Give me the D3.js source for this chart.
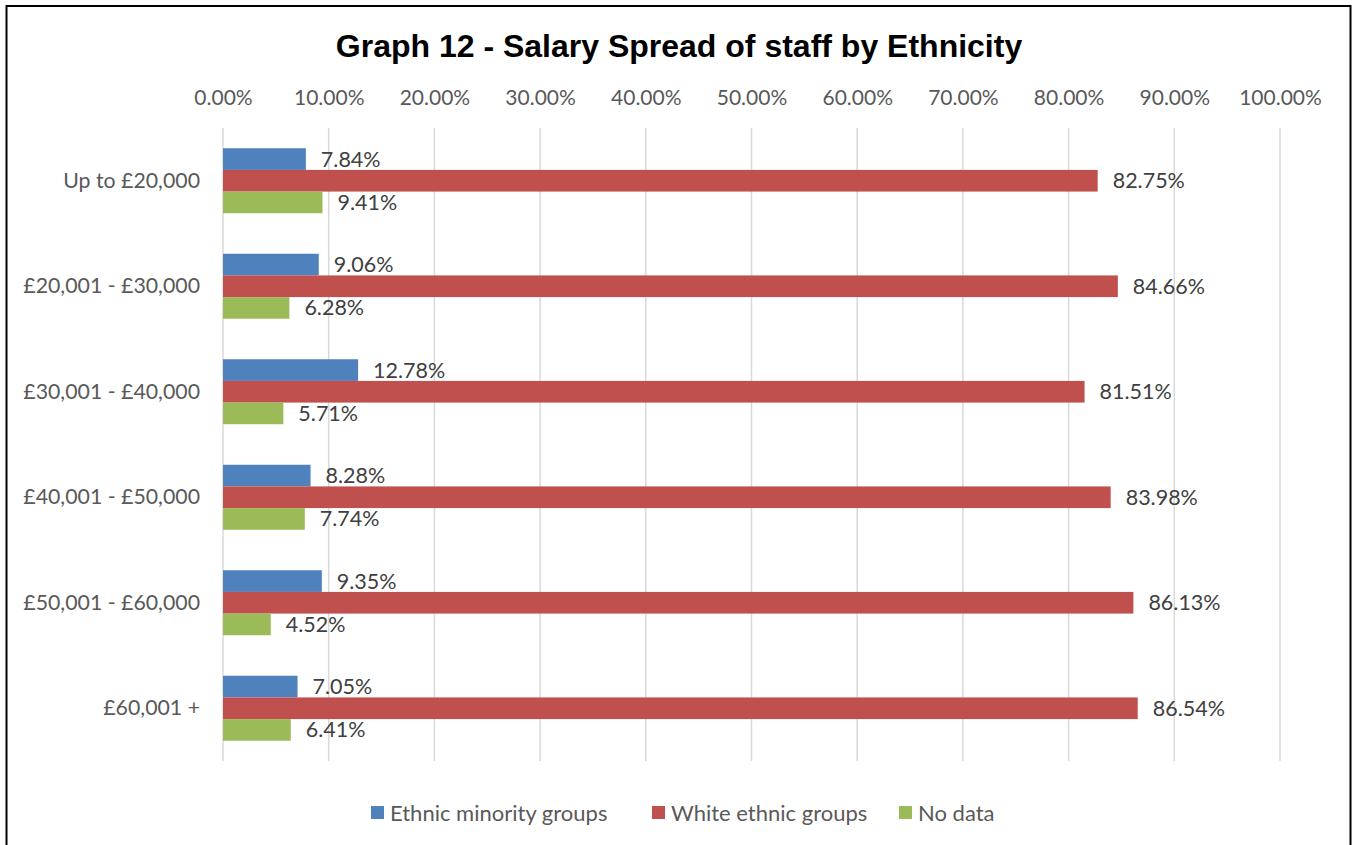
<!DOCTYPE html>
<html>
<head>
<meta charset="utf-8">
<script src="https://cdn.jsdelivr.net/npm/d3@7"></script>
<style>
  html, body { margin: 0; padding: 0; background: #fff; }
  svg { display: block; }
</style>
</head>
<body>
<svg id="chart" width="1357" height="845"></svg>
<script>
// Salary bands (top to bottom)
const categories = ["Up to £20,000", "£20,001 - £30,000", "£30,001 - £40,000", "£40,001 - £50,000", "£50,001 - £60,000", "£60,001 +"];
// Percentage of staff in each band
const ethnicMinority = [7.84, 9.06, 12.78, 8.28, 9.35, 7.05];
const whiteEthnic = [82.75, 84.66, 81.51, 83.98, 86.13, 86.54];
const noData = [9.41, 6.28, 5.71, 7.74, 4.52, 6.41];
const seriesNames = ["Ethnic minority groups", "White ethnic groups", "No data"];
const seriesColors = ["#4F81BD", "#C0504D", "#9BBB59"];
const tickValues = [0, 10, 20, 30, 40, 50, 60, 70, 80, 90, 100];

const seriesValues = [ethnicMinority, whiteEthnic, noData];
const series = seriesNames.map((name, i) => ({ name, color: seriesColors[i], values: seriesValues[i] }));

const svg = d3.select("#chart");
const font = "Lato, 'Open Sans', sans-serif";

// Chart frame
svg.append("path")
  .attr("d", "M6.5,845 V6 H1350.5 V845")
  .attr("fill", "none")
  .attr("stroke", "#000")
  .attr("stroke-width", 2);

// Title
svg.append("text")
  .attr("x", 679)
  .attr("y", 57)
  .attr("text-anchor", "middle")
  .attr("font-family", "'Liberation Sans', Arial, sans-serif")
  .attr("font-weight", "bold")
  .attr("font-size", 32)
  .attr("fill", "#000")
  .text("Graph 12 - Salary Spread of staff by Ethnicity");

const plot = { left: 223, right: 1280, top: 128, bottom: 761 };

const x = d3.scaleLinear().domain([0, 100]).range([plot.left, plot.right]);
const y = d3.scaleBand().domain(categories).range([plot.top, plot.bottom]).paddingInner(0.384).paddingOuter(0.192);
const ySub = d3.scaleBand().domain(seriesNames).range([0, y.bandwidth()]);

// Vertical gridlines
svg.append("g")
  .selectAll("line")
  .data(tickValues)
  .join("line")
  .attr("x1", d => x(d)).attr("x2", d => x(d))
  .attr("y1", plot.top).attr("y2", plot.bottom)
  .attr("stroke", "#D9D9D9")
  .attr("stroke-width", 1.5);

// Top percentage axis
const xAxis = d3.axisTop(x)
  .tickValues(tickValues)
  .tickSize(0)
  .tickPadding(0)
  .tickFormat(d => d.toFixed(2) + "%");
const gx = svg.append("g").attr("transform", `translate(0,105)`).call(xAxis);
gx.select(".domain").remove();
gx.selectAll("text")
  .attr("font-family", font)
  .attr("font-size", 21)
  .attr("fill", "#595959");

// Category axis
const yAxis = d3.axisLeft(y).tickSize(0).tickPadding(23);
const gy = svg.append("g").attr("transform", `translate(${plot.left},0)`).call(yAxis);
gy.select(".domain").remove();
gy.selectAll("text")
  .attr("font-family", font)
  .attr("font-size", 21.3)
  .attr("fill", "#595959");

// Bars and value labels
const groups = svg.append("g")
  .selectAll("g")
  .data(categories)
  .join("g")
  .attr("transform", d => `translate(0,${y(d)})`);

groups.selectAll("rect")
  .data((d, i) => series.map(s => ({ s, v: s.values[i] })))
  .join("rect")
  .attr("x", x(0))
  .attr("y", d => ySub(d.s.name))
  .attr("width", d => x(d.v) - x(0))
  .attr("height", ySub.bandwidth())
  .attr("fill", d => d.s.color);

groups.selectAll("text")
  .data((d, i) => series.map(s => ({ s, v: s.values[i] })))
  .join("text")
  .attr("x", d => x(d.v) + 15)
  .attr("y", d => ySub(d.s.name) + ySub.bandwidth() / 2)
  .attr("dy", "0.35em")
  .attr("font-family", font)
  .attr("font-size", 21.5)
  .attr("fill", "#404040")
  .text(d => d.v.toFixed(2) + "%");

// Legend
const legendX = [371, 652, 899];
const legend = svg.append("g")
  .selectAll("g")
  .data(series)
  .join("g")
  .attr("transform", (d, i) => `translate(${legendX[i]},813)`);
legend.append("rect")
  .attr("x", 0).attr("y", -7)
  .attr("width", 13).attr("height", 13)
  .attr("fill", d => d.color);
legend.append("text")
  .attr("x", 19)
  .attr("y", 0)
  .attr("dy", "0.35em")
  .attr("font-family", font)
  .attr("font-size", 22)
  .attr("fill", "#595959")
  .text(d => d.name);
</script>
</body>
</html>
